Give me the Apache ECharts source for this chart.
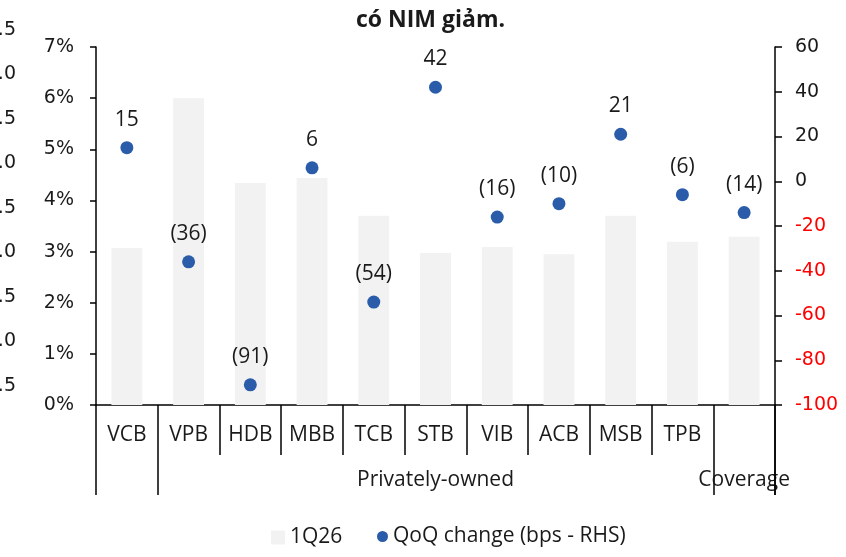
<!DOCTYPE html>
<html>
<head>
<meta charset="utf-8">
<script src="https://cdn.jsdelivr.net/npm/echarts@6/dist/echarts.min.js"></script>
<style>html,body{margin:0;padding:0;background:#fff;}#c{width:846px;height:557px;}</style>
</head>
<body>
<div id="c"></div>
<script>
const categories = ['VCB', 'VPB', 'HDB', 'MBB', 'TCB', 'STB', 'VIB', 'ACB', 'MSB', 'TPB', ''];
const groupLabels = ['', '', '', '', '', 'Privately-owned', '', '', '', '', 'Coverage'];
const groupBoundaries = [0, 1, 10];
const nim1Q26 = [0.0307, 0.0600, 0.0434, 0.0444, 0.0370, 0.0297, 0.0309, 0.0295, 0.0370, 0.0319, 0.0329];
const qoqChange = [15, -36, -91, 6, -54, 42, -16, -10, 21, -6, -14];
const clippedTicks = [0.5, 1.0, 1.5, 2.0, 2.5, 3.0, 3.5, 4.0, 4.5];
const titleText = 'có NIM giảm.';

const txt = '#1a1a1a';
const sans = 'Open Sans';
const numFont = 'DejaVu Sans';
const fs = 21;
const groupTickLen = 90;
const tickStyle = { color: '#000', width: 1.5 };

const chart = echarts.init(document.getElementById('c'));
chart.setOption({
  animation: false,
  backgroundColor: '#fff',
  title: {
    text: titleText, left: 351, top: 4,
    textStyle: { fontFamily: sans, fontWeight: 'bold', fontSize: 23, color: txt }
  },
  legend: [{
    data: ['1Q26'], bottom: 4, left: 266, itemWidth: 14, itemHeight: 14, icon: 'rect', itemGap: 6,
    textStyle: { fontFamily: sans, fontSize: fs, color: txt }
  }, {
    data: ['QoQ change (bps - RHS)'], bottom: 5, left: 372, itemWidth: 11, itemHeight: 11, icon: 'circle',
    textStyle: { fontFamily: sans, fontSize: fs, color: txt }
  }],
  grid: [
    { left: 96, right: 71, top: 47, bottom: 152 },
    { left: 24, width: 1, top: 30, bottom: 171 }
  ],
  xAxis: [{
    type: 'category', data: categories, gridIndex: 0, position: 'bottom',
    axisLine: { show: true, onZero: false, lineStyle: tickStyle },
    axisTick: { show: true, interval: 0, length: 50, lineStyle: tickStyle },
    axisLabel: { interval: 0, margin: 20, fontFamily: sans, fontSize: fs, color: txt }
  }, {
    type: 'category', data: groupLabels, gridIndex: 0, position: 'bottom',
    axisLine: { show: false, onZero: false },
    axisTick: { show: true, interval: (i) => groupBoundaries.indexOf(i) >= 0, length: groupTickLen, lineStyle: tickStyle },
    axisLabel: { interval: 0, margin: 65, fontFamily: sans, fontSize: fs, color: txt }
  }, {
    type: 'value', gridIndex: 1, show: false
  }],
  yAxis: [{
    type: 'value', min: 0, max: 0.07, interval: 0.01, gridIndex: 0,
    splitLine: { show: false },
    axisLine: { show: true, lineStyle: tickStyle },
    axisTick: { show: true, length: 6, lineStyle: tickStyle },
    axisLabel: { margin: 22, fontFamily: numFont, fontSize: 19, color: txt, formatter: v => Math.round(v * 100) + '%' }
  }, {
    type: 'value', min: -100, max: 60, interval: 20, gridIndex: 0, position: 'right',
    splitLine: { show: false },
    axisLine: { show: true, lineStyle: tickStyle },
    axisTick: { show: true, length: 7, lineStyle: tickStyle },
    axisLabel: { margin: 20, fontFamily: numFont, fontSize: 19, color: v => (v < 0 ? '#ff0000' : txt), formatter: v => String(v) }
  }, {
    type: 'value', min: clippedTicks[0], max: clippedTicks[clippedTicks.length - 1], interval: 0.5, gridIndex: 1,
    splitLine: { show: false }, axisLine: { show: false }, axisTick: { show: false },
    axisLabel: { margin: 9, fontFamily: numFont, fontSize: 19, color: txt, formatter: v => v.toFixed(1) }
  }],
  series: [{
    name: '1Q26', type: 'bar', data: nim1Q26, xAxisIndex: 0, yAxisIndex: 0,
    barWidth: '50%', itemStyle: { color: '#f2f2f2' }
  }, {
    name: 'QoQ change (bps - RHS)', type: 'scatter', data: qoqChange, xAxisIndex: 0, yAxisIndex: 1,
    symbolSize: 13, itemStyle: { color: '#2a5caa', opacity: 1 },
    label: {
      show: true, position: 'top', distance: 11, fontFamily: sans, fontSize: fs, color: txt,
      formatter: p => (p.value < 0 ? '(' + Math.abs(p.value) + ')' : String(p.value))
    }
  }]
});

// closing group divider at the right end of the category axis, placed via the axis scale
const n = categories.length;
const c0 = chart.convertToPixel({ xAxisIndex: 0 }, 0);
const c1 = chart.convertToPixel({ xAxisIndex: 0 }, 1);
const band = c1 - c0;
const xEnd = chart.convertToPixel({ xAxisIndex: 0 }, n - 1) + band / 2;
const yBase = chart.convertToPixel({ yAxisIndex: 0 }, 0);
chart.setOption({
  graphic: [{
    type: 'line', z: 10,
    shape: { x1: xEnd, y1: yBase, x2: xEnd, y2: yBase + groupTickLen },
    style: { stroke: '#000', lineWidth: 1.5 }
  }]
});
</script>
</body>
</html>
